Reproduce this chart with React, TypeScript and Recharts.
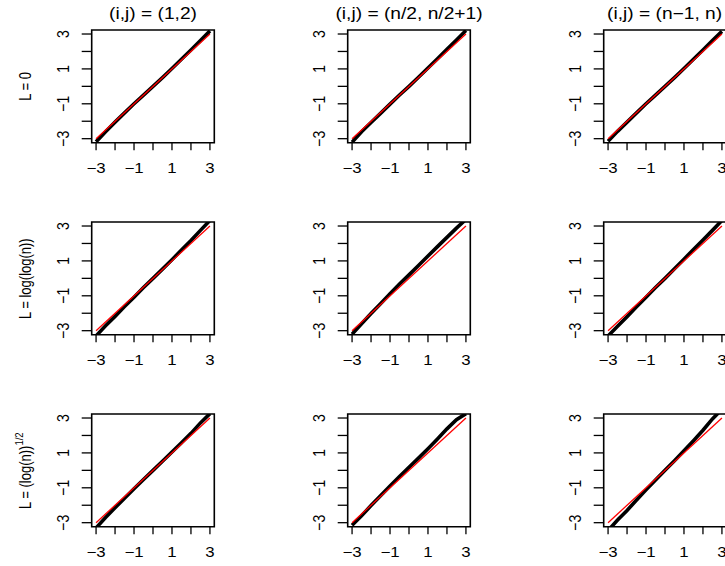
import React from 'react';
import { LineChart, Line, XAxis, YAxis, ReferenceArea } from 'recharts';

// theoretical quantiles (x) shared by every panel
const qx = [-3, -2.5, -2, -1.5, -1, -0.5, 0, 0.5, 1, 1.5, 2, 2.5, 3];
const axisTicks = [-3, -2, -1, 0, 1, 2, 3];
const refX = [-3, 3];

const colTitles = ['(i,j) = (1,2)', '(i,j) = (n/2, n/2+1)', '(i,j) = (n\u22121, n)'];

// sample quantiles, row L = 0
const l0Pair1 = [-3.18, -2.6, -2.05, -1.52, -1.0, -0.5, 0, 0.5, 1.02, 1.55, 2.08, 2.62, 3.18];
const l0PairMid = [-3.2, -2.6, -2.07, -1.55, -1.02, -0.5, 0, 0.52, 1.05, 1.58, 2.12, 2.66, 3.2];
const l0PairLast = [-3.15, -2.58, -2.05, -1.52, -1.0, -0.5, 0, 0.5, 1.02, 1.55, 2.08, 2.62, 3.15];
// row L = log(log(n))
const llPair1 = [-3.3, -2.72, -2.18, -1.62, -1.08, -0.53, 0, 0.53, 1.07, 1.62, 2.17, 2.75, 3.32];
const llPairMid = [-3.2, -2.6, -2.02, -1.45, -0.88, -0.33, 0.2, 0.74, 1.28, 1.82, 2.35, 2.88, 3.38];
const llPairLast = [-3.3, -2.75, -2.2, -1.63, -1.08, -0.53, 0, 0.55, 1.1, 1.65, 2.2, 2.75, 3.32];
// row L = (log(n))^(1/2)
const sqPair1 = [-3.3, -2.7, -2.15, -1.6, -1.06, -0.52, 0, 0.52, 1.05, 1.58, 2.12, 2.72, 3.25];
const sqPairMid = [-3.15, -2.6, -2.02, -1.45, -0.9, -0.35, 0.18, 0.7, 1.24, 1.8, 2.38, 2.9, 3.25];
const sqPairLast = [-3.45, -2.85, -2.3, -1.7, -1.12, -0.55, 0, 0.55, 1.12, 1.7, 2.3, 2.95, 3.5];

const panels = [
  [l0Pair1, l0PairMid, l0PairLast],
  [llPair1, llPairMid, llPairLast],
  [sqPair1, sqPairMid, sqPairLast],
];

const colX = [0, 256, 511.6];
const rowY = [0, 192.3, 384.3];
const DOM: [number, number] = [-3.23, 3.23];
const SX = 1.2; // text in the source is stretched sideways
const FONT = '"Liberation Sans", Arial, Helvetica, sans-serif';

const fmt = (v: number) => (v < 0 ? '\u2212' + Math.abs(v) : String(v));

const XTick = (props: any) => {
  const { x, y, payload } = props;
  if (Math.abs(payload.value) % 2 !== 1) return <g />;
  return (
    <text
      transform={`translate(${x},${y}) scale(${SX},1)`}
      textAnchor="middle"
      dy="0.71em"
      fontSize={14}
      fontFamily={FONT}
      fill="#000"
    >
      {fmt(payload.value)}
    </text>
  );
};

const YTick = (props: any) => {
  const { x, y, payload } = props;
  if (Math.abs(payload.value) % 2 !== 1) return <g />;
  return (
    <text
      transform={`translate(${x},${y}) scale(${SX},1) rotate(-90)`}
      textAnchor="middle"
      fontSize={14}
      fontFamily={FONT}
      fill="#000"
    >
      {fmt(payload.value)}
    </text>
  );
};

const Panel = ({ ys }: { ys: number[] }) => {
  const pts = qx.map((x, i) => ({ x, y: ys[i] }));
  const ref = refX.map(x => ({ x, y: x }));
  return (
    <LineChart width={256} height={192.3} margin={{ top: 30, right: 41.7, left: 51.7, bottom: 9.6 }}>
      <XAxis
        type="number"
        dataKey="x"
        domain={DOM}
        ticks={axisTicks}
        interval={0}
        allowDataOverflow
        axisLine={false}
        tickSize={7.5}
        tickMargin={12.5}
        height={40}
        tickLine={{ stroke: '#000', strokeWidth: 1.3 }}
        tick={<XTick />}
      />
      <YAxis
        type="number"
        dataKey="y"
        domain={DOM}
        ticks={axisTicks}
        interval={0}
        allowDataOverflow
        axisLine={false}
        tickSize={10}
        tickMargin={12.5}
        width={40}
        tickLine={{ stroke: '#000', strokeWidth: 1.3 }}
        tick={<YTick />}
      />
      <ReferenceArea x1={DOM[0]} x2={DOM[1]} y1={DOM[0]} y2={DOM[1]} fill="none" fillOpacity={0} stroke="#000" strokeWidth={1.6} ifOverflow="visible" />
      <Line data={pts} dataKey="y" type="linear" stroke="#000" strokeWidth={3.6} dot={false} isAnimationActive={false} />
      <Line data={ref} dataKey="y" type="linear" stroke="#ff0000" strokeWidth={1.3} dot={false} isAnimationActive={false} />
    </LineChart>
  );
};

export default function App() {
  const rowCenters = rowY.map(r => r + 86.4);
  return (
    <div style={{ position: 'absolute', left: 0, top: 0, width: 725, height: 566, overflow: 'hidden', background: '#fff' }}>
      {panels.map((row, r) =>
        row.map((ys, c) => (
          <div key={`${r}-${c}`} style={{ position: 'absolute', left: colX[c], top: rowY[r] }}>
            <Panel ys={ys} />
          </div>
        ))
      )}
      <svg width={725} height={566} style={{ position: 'absolute', left: 0, top: 0, pointerEvents: 'none' }}>
        {colTitles.map((t, c) => (
          <text
            key={t}
            transform={`translate(${colX[c] + 153},19) scale(${SX},1)`}
            textAnchor="middle"
            fontSize={16}
            fontFamily={FONT}
            fill="#000"
          >
            {t}
          </text>
        ))}
        <text transform={`translate(31,${rowCenters[0]}) scale(${SX},1) rotate(-90)`} textAnchor="middle" fontSize={13} fontFamily={FONT}>
          L = 0
        </text>
        <text transform={`translate(31,${rowCenters[1]}) scale(${SX},1) rotate(-90)`} textAnchor="middle" fontSize={13} fontFamily={FONT}>
          L = log(log(n))
        </text>
        <text transform={`translate(31,${rowCenters[2]}) scale(${SX},1) rotate(-90)`} textAnchor="middle" fontSize={13} fontFamily={FONT}>
          L = (log(n))
          <tspan dy={-6.5} fontSize={9.5}>1/2</tspan>
        </text>
      </svg>
    </div>
  );
}
